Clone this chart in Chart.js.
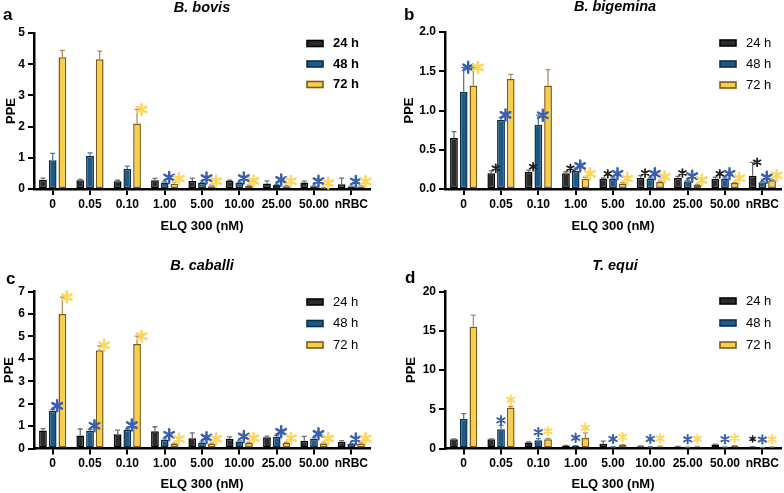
<!DOCTYPE html>
<html>
<head>
<meta charset="utf-8">
<script src="https://cdn.jsdelivr.net/npm/chart.js@4.4.1/dist/chart.umd.min.js"></script>
<style>
  body { margin: 0; background: #fff; }
  #wrap { position: relative; width: 784px; height: 493px; }
  canvas { position: absolute; }
</style>
</head>
<body>
<div id="wrap">
  <canvas id="pa" width="392" height="246" style="left:0;top:0"></canvas>
  <canvas id="pb" width="392" height="246" style="left:392px;top:0"></canvas>
  <canvas id="pc" width="392" height="247" style="left:0;top:246px"></canvas>
  <canvas id="pd" width="392" height="247" style="left:392px;top:246px"></canvas>
</div>
<script>
// categories and series
const cats = ['0', '0.05', '0.10', '1.00', '5.00', '10.00', '25.00', '50.00', 'nRBC'];
const series = ['24 h', '48 h', '72 h'];

// a - B. bovis
const bovisTicks = [0, 1, 2, 3, 4, 5];
const bovis24 = [0.30, 0.28, 0.25, 0.28, 0.26, 0.26, 0.18, 0.21, 0.15];
const bovis48 = [0.92, 1.06, 0.64, 0.21, 0.19, 0.19, 0.13, 0.09, 0.08];
const bovis72 = [4.22, 4.16, 2.10, 0.17, 0.09, 0.10, 0.09, 0.03, 0.08];
const bovis24Err = [0.05, 0.03, 0.03, 0.06, 0.09, 0.02, 0.08, 0.04, 0.20];
const bovis48Err = [0.22, 0.10, 0.09, 0.02, 0.02, 0.02, 0.02, 0.01, 0.01];
const bovis72Err = [0.22, 0.26, 0.45, 0.05, 0.03, 0.02, 0.02, 0.01, 0.02];
const bovis24Star = [0, 0, 0, 0, 0, 0, 0, 0, 0];
const bovis48Star = [0, 0, 0, 1, 1, 1, 1, 1, 1];
const bovis72Star = [0, 0, 1, 1, 1, 1, 1, 1, 1];

// b - B. bigemina
const bigTicks = [0, 0.5, 1.0, 1.5, 2.0];
const big24 = [0.65, 0.20, 0.22, 0.20, 0.13, 0.14, 0.14, 0.13, 0.17];
const big48 = [1.24, 0.88, 0.82, 0.23, 0.13, 0.13, 0.10, 0.13, 0.085];
const big72 = [1.32, 1.40, 1.32, 0.13, 0.07, 0.09, 0.05, 0.075, 0.11];
const big24Err = [0.08, 0.03, 0.02, 0.02, 0.01, 0.03, 0.02, 0.02, 0.17];
const big48Err = [0.31, 0.03, 0.12, 0.02, 0.01, 0.01, 0.01, 0.01, 0.01];
const big72Err = [0.23, 0.06, 0.20, 0.02, 0.01, 0.01, 0.01, 0.01, 0.01];
const big24Star = [0, 1, 1, 1, 1, 1, 1, 1, 1];
const big48Star = [1, 1, 1, 1, 1, 1, 1, 1, 1];
const big72Star = [1, 0, 0, 1, 1, 1, 1, 1, 1];

// c - B. caballi
const cabTicks = [0, 1, 2, 3, 4, 5, 6, 7];
const cab24 = [0.80, 0.58, 0.64, 0.77, 0.46, 0.43, 0.50, 0.34, 0.30];
const cab48 = [1.68, 0.79, 0.82, 0.39, 0.26, 0.31, 0.52, 0.43, 0.20];
const cab72 = [6.00, 4.38, 4.66, 0.20, 0.21, 0.24, 0.24, 0.22, 0.22];
const cab24Err = [0.09, 0.29, 0.18, 0.20, 0.24, 0.09, 0.05, 0.20, 0.05];
const cab48Err = [0.05, 0.05, 0.05, 0.04, 0.03, 0.03, 0.06, 0.04, 0.02];
const cab72Err = [0.75, 0.20, 0.35, 0.03, 0.03, 0.03, 0.03, 0.03, 0.03];
const cab24Star = [0, 0, 0, 0, 0, 0, 0, 0, 0];
const cab48Star = [1, 1, 1, 1, 1, 1, 1, 1, 1];
const cab72Star = [1, 1, 1, 1, 1, 1, 1, 1, 1];

// d - T. equi
const equiTicks = [0, 5, 10, 15, 20];
const equi24 = [1.18, 1.18, 0.78, 0.38, 0.60, 0.30, 0.25, 0.50, 0.20];
const equi48 = [3.75, 2.45, 1.06, 0.34, 0.20, 0.20, 0.15, 0.17, 0.12];
const equi72 = [15.5, 5.20, 1.18, 1.35, 0.45, 0.25, 0.22, 0.32, 0.15];
const equi24Err = [0.05, 0.05, 0.05, 0.03, 0.35, 0.03, 0.03, 0.05, 0.03];
const equi48Err = [0.70, 0.50, 0.20, 0.03, 0.02, 0.02, 0.02, 0.02, 0.02];
const equi72Err = [1.50, 0.15, 0.10, 0.65, 0.05, 0.05, 0.05, 0.05, 0.05];
const equi24Star = [0, 0, 0, 0, 0, 0, 0, 0, 1];
const equi48Star = [0, 1, 1, 1, 1, 1, 1, 1, 1];
const equi72Star = [0, 1, 1, 1, 1, 1, 1, 1, 1];

const FILL = ['#2b2b2b', '#1c5b87', '#f9cf4a'];
const EDGE = ['#050505', '#0f2f48', '#7b5b1c'];
const ERRC = ['#707070', '#56789a', '#a89060'];
const STARC = ['#1e1e1e', '#3a5fae', '#fdd65c'];
const STARSCALE = [0.72, 1, 1];
const FONT = '"Liberation Sans", Arial, sans-serif';

Chart.defaults.font.family = FONT;
Chart.defaults.color = '#000';

// asterisk drawn as three crossing strokes
function star(ctx, x, y, r, col) {
  ctx.save();
  ctx.strokeStyle = col;
  ctx.lineWidth = Math.max(1.5, r * 0.45);
  ctx.lineCap = 'round';
  ctx.beginPath();
  for (let k = 0; k < 3; k++) {
    const a = Math.PI / 2 + k * Math.PI / 3;
    ctx.moveTo(x + Math.cos(a) * r, y + Math.sin(a) * r);
    ctx.lineTo(x - Math.cos(a) * r, y - Math.sin(a) * r);
  }
  ctx.stroke();
  ctx.restore();
}

const decor = {
  id: 'decor',
  afterDatasetsDraw(chart, args, o) {
    const ctx = chart.ctx, ys = chart.scales.y;
    chart.data.datasets.forEach((ds, di) => {
      const meta = chart.getDatasetMeta(di);
      meta.data.forEach((bar, i) => {
        const top = ys.getPixelForValue(ds.data[i] + ds.err[i]);
        ctx.save();
        ctx.strokeStyle = ERRC[di];
        ctx.lineWidth = 1.3;
        ctx.beginPath();
        ctx.moveTo(bar.x, bar.y);
        ctx.lineTo(bar.x, top);
        ctx.moveTo(bar.x - 2.5, top);
        ctx.lineTo(bar.x + 2.5, top);
        ctx.stroke();
        ctx.restore();
        if (ds.stars[i]) {
          const sy = Math.min(top + o.starErrDy, bar.y + o.starBarDy);
          star(ctx, bar.x + o.starDx, sy, o.starR * STARSCALE[di], STARC[di]);
        }
      });
    });
  },
  afterDraw(chart, args, o) {
    const ctx = chart.ctx;
    ctx.save();
    ctx.fillStyle = '#000';
    ctx.textBaseline = 'middle';
    // panel letter
    ctx.textAlign = 'left';
    ctx.font = 'bold 17px ' + FONT;
    ctx.fillText(o.letter, o.letterX, o.letterY);
    // title
    ctx.textAlign = 'center';
    ctx.font = 'italic bold 14.5px ' + FONT;
    ctx.fillText(o.title, o.titleX, o.titleY);
    // legend
    ctx.textAlign = 'left';
    ctx.font = (o.legBold ? 'bold ' : '') + '13px ' + FONT;
    chart.data.datasets.forEach((ds, k) => {
      const y = o.legY + k * o.legGap;
      ctx.fillStyle = FILL[k];
      ctx.fillRect(o.legX, y - 3, 16, 6);
      ctx.strokeStyle = EDGE[k];
      ctx.lineWidth = 1.6;
      ctx.strokeRect(o.legX, y - 3, 16, 6);
      ctx.fillStyle = '#000';
      ctx.fillText(ds.label, o.legX + 26, y);
    });
    ctx.restore();
  }
};

function panel(id, p) {
  const cv = document.getElementById(id);
  const W = cv.width, H = cv.height, A = p.area;
  const vals = p.vals, ticks = p.ticks;
  return new Chart(cv, {
    type: 'bar',
    data: {
      labels: cats,
      datasets: series.map((s, k) => ({
        label: s,
        data: vals[k],
        err: p.errs[k],
        stars: p.stars[k],
        backgroundColor: FILL[k],
        borderColor: EDGE[k],
        borderWidth: 1.5,
        borderSkipped: false,
        barPercentage: 0.8,
        categoryPercentage: 0.78
      }))
    },
    options: {
      responsive: false,
      animation: false,
      layout: { padding: { left: 0, top: A.top, right: W - A.right, bottom: 0 } },
      plugins: {
        legend: { display: false },
        tooltip: { enabled: false },
        decor: p.decor
      },
      scales: {
        x: {
          offset: true,
          grid: { offset: false, drawOnChartArea: false, tickLength: 6, lineWidth: 2, color: '#000' },
          border: { display: true, width: 2.5, color: '#000' },
          ticks: { autoSkip: false, maxRotation: 0, padding: 2, font: { size: 12, weight: 'bold' }, color: '#000' },
          title: { display: true, text: 'ELQ 300 (nM)', font: { size: 13, weight: 'bold' }, color: '#000',
                   padding: { top: 0, bottom: p.xTitlePad } },
          afterFit(s) { s.height = H - A.bottom; }
        },
        y: {
          min: ticks[0],
          max: ticks[ticks.length - 1],
          grid: { drawOnChartArea: false, tickLength: 6, lineWidth: 2, color: '#000' },
          border: { display: true, width: 2.5, color: '#000' },
          ticks: { stepSize: ticks[1] - ticks[0], padding: 3, font: { size: 12, weight: 'bold' }, color: '#000',
                   callback: v => v.toFixed(p.dec) },
          title: { display: true, text: 'PPE', font: { size: 13, weight: 'bold' }, color: '#000',
                   padding: { top: p.yTitlePad, bottom: 0 } },
          afterFit(s) { s.width = A.left; }
        }
      }
    },
    plugins: [decor]
  });
}

const starBig = { starDx: 4.5, starErrDy: 0, starBarDy: -5, starR: 5.5 };
const starSmall = { starDx: 0, starErrDy: -5, starBarDy: -8, starR: 4.3 };

panel('pa', {
  area: { left: 34, top: 33, right: 370, bottom: 189 },
  ticks: bovisTicks, dec: 0, xTitlePad: 12, yTitlePad: 4,
  vals: [bovis24, bovis48, bovis72],
  errs: [bovis24Err, bovis48Err, bovis72Err],
  stars: [bovis24Star, bovis48Star, bovis72Star],
  decor: Object.assign({ letter: 'a', letterX: 3, letterY: 15, title: 'B. bovis', titleX: 202, titleY: 8,
                         legX: 307, legY: 43.5, legGap: 20.5, legBold: true }, starBig)
});

panel('pb', {
  area: { left: 53, top: 32, right: 389, bottom: 189 },
  ticks: bigTicks, dec: 1, xTitlePad: 12, yTitlePad: 10,
  vals: [big24, big48, big72],
  errs: [big24Err, big48Err, big72Err],
  stars: [big24Star, big48Star, big72Star],
  decor: Object.assign({ letter: 'b', letterX: 12, letterY: 15, title: 'B. bigemina', titleX: 223, titleY: 7,
                         legX: 328, legY: 43, legGap: 21, legBold: false }, starBig)
});

panel('pc', {
  area: { left: 34, top: 45.5, right: 370, bottom: 202.5 },
  ticks: cabTicks, dec: 0, xTitlePad: 1, yTitlePad: 2,
  vals: [cab24, cab48, cab72],
  errs: [cab24Err, cab48Err, cab72Err],
  stars: [cab24Star, cab48Star, cab72Star],
  decor: Object.assign({ letter: 'c', letterX: 6, letterY: 33, title: 'B. caballi', titleX: 202, titleY: 20,
                         legX: 307, legY: 56, legGap: 21.5, legBold: false }, starBig)
});

panel('pd', {
  area: { left: 53, top: 45.5, right: 389, bottom: 202.5 },
  ticks: equiTicks, dec: 0, xTitlePad: 1, yTitlePad: 12,
  vals: [equi24, equi48, equi72],
  errs: [equi24Err, equi48Err, equi72Err],
  stars: [equi24Star, equi48Star, equi72Star],
  decor: Object.assign({ letter: 'd', letterX: 13, letterY: 32, title: 'T. equi', titleX: 223, titleY: 20,
                         legX: 328, legY: 55, legGap: 22, legBold: false }, starSmall)
});
</script>
</body>
</html>
